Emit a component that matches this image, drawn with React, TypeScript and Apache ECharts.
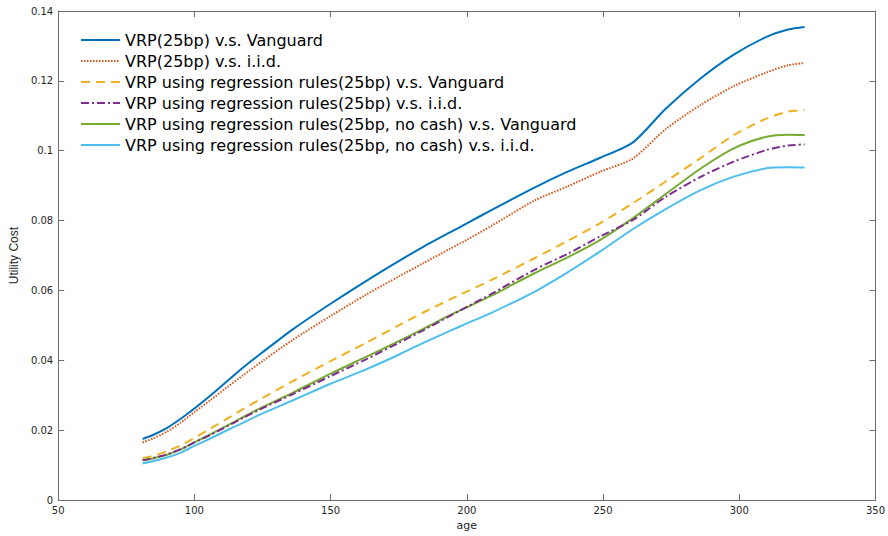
import React, { useEffect, useRef } from "react";
import * as echarts from "echarts";

const ages = [81, 85, 90, 95, 100, 106, 112, 118, 125, 136, 150, 163, 175, 184, 194, 200, 209, 225, 237, 249, 261, 273, 286, 298, 310, 318, 324];

const vrpVanguard = [0.0175, 0.0187, 0.0207, 0.0233, 0.0262, 0.03, 0.034, 0.038, 0.0423, 0.0488, 0.0562, 0.0627, 0.0684, 0.0725, 0.0767, 0.0792, 0.083, 0.0895, 0.094, 0.098, 0.1024, 0.112, 0.1208, 0.1275, 0.1326, 0.1347, 0.1354];
const vrpIid = [0.0165, 0.0177, 0.0196, 0.0222, 0.0252, 0.0287, 0.0323, 0.0358, 0.0398, 0.0458, 0.0527, 0.0588, 0.064, 0.0678, 0.072, 0.0745, 0.0785, 0.0858, 0.0898, 0.094, 0.0978, 0.1062, 0.1132, 0.1185, 0.1224, 0.1245, 0.1251];
const regVanguard = [0.012, 0.0127, 0.014, 0.0157, 0.0178, 0.0205, 0.0233, 0.0261, 0.0292, 0.034, 0.0398, 0.045, 0.05, 0.0537, 0.0575, 0.0597, 0.063, 0.0693, 0.0742, 0.0793, 0.085, 0.0912, 0.098, 0.1045, 0.1092, 0.1112, 0.1116];
const regIid = [0.0115, 0.0121, 0.0131, 0.0146, 0.0165, 0.0187, 0.0211, 0.0236, 0.0263, 0.0303, 0.0355, 0.0403, 0.045, 0.0486, 0.0528, 0.0553, 0.059, 0.066, 0.0705, 0.0755, 0.0802, 0.0868, 0.0926, 0.0969, 0.1002, 0.1015, 0.1018];
const noCashVanguard = [0.0113, 0.012, 0.013, 0.0145, 0.0165, 0.0189, 0.0213, 0.0238, 0.0266, 0.0307, 0.0362, 0.041, 0.0455, 0.049, 0.053, 0.0552, 0.0585, 0.065, 0.0695, 0.0745, 0.0807, 0.0876, 0.095, 0.1007, 0.104, 0.1046, 0.1045];
const noCashIid = [0.0105, 0.0112, 0.0122, 0.0136, 0.0155, 0.0177, 0.02, 0.0222, 0.0248, 0.0285, 0.0333, 0.0374, 0.0416, 0.045, 0.0485, 0.0506, 0.0536, 0.0597, 0.0652, 0.0712, 0.0776, 0.0833, 0.0888, 0.0926, 0.095, 0.0953, 0.0952];

const seriesNames = [
  "VRP(25bp) v.s. Vanguard",
  "VRP(25bp) v.s. i.i.d.",
  "VRP using regression rules(25bp) v.s. Vanguard",
  "VRP using regression rules(25bp) v.s. i.i.d.",
  "VRP using regression rules(25bp, no cash) v.s. Vanguard",
  "VRP using regression rules(25bp, no cash) v.s. i.i.d.",
];
const seriesValues = [vrpVanguard, vrpIid, regVanguard, regIid, noCashVanguard, noCashIid];
const seriesColors = ["#0072BD", "#D95319", "#EDB120", "#7E2F8E", "#77AC30", "#4DBEEE"];
const seriesDash: any[] = ["solid", [1.5, 1.5], [9, 6], [8, 3, 2, 3], "solid", "solid"];

const xMin = 50, xMax = 350, xStep = 50;
const yMin = 0, yMax = 0.14, yStep = 0.02;

export default function App() {
  const ref = useRef<HTMLDivElement>(null);
  useEffect(() => {
    if (!ref.current) return;
    const chart = echarts.init(ref.current, null, { renderer: "svg" });
    const axisColor = "#6e6e6e";
    const labelStyle = { color: "#262626", fontSize: 10, fontFamily: "DejaVu Sans, sans-serif" };
    const xBase = {
      type: "value" as const,
      min: xMin,
      max: xMax,
      interval: xStep,
      splitLine: { show: false },
      axisLine: { show: true, onZero: false, lineStyle: { color: axisColor, width: 1 } },
      axisTick: { show: true, inside: true, length: 6, lineStyle: { color: axisColor } },
    };
    const yBase = {
      type: "value" as const,
      min: yMin,
      max: yMax,
      interval: yStep,
      splitLine: { show: false },
      axisLine: { show: true, onZero: false, lineStyle: { color: axisColor, width: 1 } },
      axisTick: { show: true, inside: true, length: 6, lineStyle: { color: axisColor } },
    };
    chart.setOption({
      animation: false,
      backgroundColor: "#ffffff",
      grid: { left: 55, right: 10.5, top: 11, bottom: 31, containLabel: false },
      legend: {
        orient: "vertical",
        left: 75,
        top: 27,
        itemWidth: 39,
        itemHeight: 14,
        itemGap: 5,
        itemStyle: { opacity: 0 },
        textStyle: { fontSize: 16, color: "#000", fontFamily: "DejaVu Sans, sans-serif" },
        data: seriesNames.map((n) => ({ name: n })),
      },
      xAxis: [
        {
          ...xBase,
          position: "bottom",
          name: "age",
          nameLocation: "middle",
          nameGap: 19,
          nameTextStyle: { color: "#262626", fontSize: 11, fontFamily: "DejaVu Sans, sans-serif" },
          axisLabel: { ...labelStyle, margin: 5 },
        },
        { ...xBase, position: "top", axisLabel: { show: false } },
      ],
      yAxis: [
        {
          ...yBase,
          position: "left",
          name: "Utility Cost",
          nameLocation: "middle",
          nameGap: 37,
          nameTextStyle: { color: "#262626", fontSize: 12, fontFamily: "Liberation Sans, Arial, sans-serif" },
          axisLabel: { ...labelStyle, margin: 5 },
        },
        { ...yBase, position: "right", axisLabel: { show: false } },
      ],
      series: seriesNames.map((name, i) => ({
        name,
        type: "line",
        xAxisIndex: 0,
        yAxisIndex: 0,
        data: ages.map((a, j) => [a, seriesValues[i][j]]),
        showSymbol: false,
        symbol: "none",
        smooth: 0.25,
        color: seriesColors[i],
        itemStyle: { color: seriesColors[i], opacity: 0 },
        lineStyle: { color: seriesColors[i], width: 2, type: seriesDash[i] },
        z: 10 - i,
      })),
    });
    return () => chart.dispose();
  }, []);
  return <div ref={ref} style={{ width: 888, height: 536, position: "absolute", left: 0, top: 0 }} />;
}
